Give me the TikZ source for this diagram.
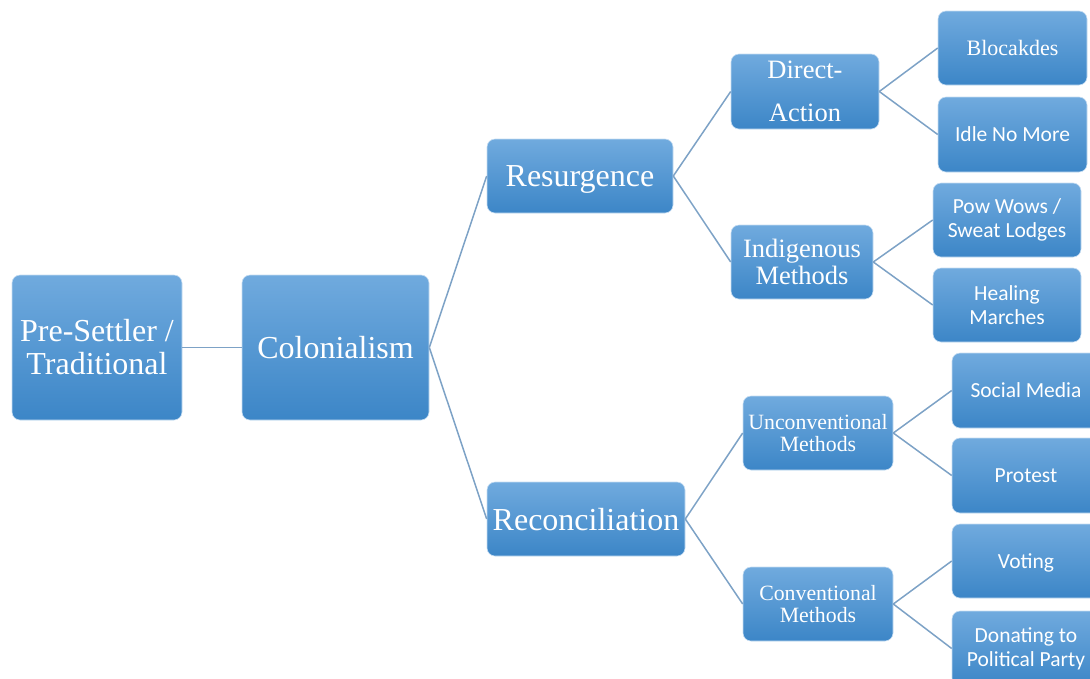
\documentclass[tikz,border=0pt]{standalone}
\usepackage{fontspec}
\setmainfont{Liberation Serif}
\newfontfamily\leaffont{Carlito}
\definecolor{boxtop}{RGB}{112,170,222}
\definecolor{boxbot}{RGB}{60,134,199}
\definecolor{conn}{RGB}{125,162,198}
\begin{document}
\begin{tikzpicture}[x=1pt,y=-1pt,
  box/.style={rounded corners=8pt, top color=boxtop, bottom color=boxbot,
    draw=boxtop!40!white, line width=0.6pt, text=white, inner sep=0pt, align=center},
  big/.style={box, font=\rmfamily\fontsize{32}{33}\selectfont},
  mid/.style={box, font=\rmfamily\fontsize{26.5}{27}\selectfont},
  small/.style={box, font=\rmfamily\fontsize{21.8}{21.5}\selectfont},
  leaf/.style={box, font=\leaffont\fontsize{21.5}{24}\selectfont, minimum width=148pt, minimum height=74pt},
  oneline/.style={text depth=0pt},
  link/.style={draw=conn, line width=1.5pt}]
\useasboundingbox (0,0) rectangle (1090,678);
\clip (0,0) rectangle (1090,678);

\node[big, minimum width=170pt, minimum height=145pt] (pre) at (97,347.5) {Pre-Settler /\\Traditional};
\node[big, oneline, minimum width=187pt, minimum height=145pt] (col) at (335.5,347.5) {Colonialism};
\node[big, oneline, minimum width=186pt, minimum height=74pt] (res) at (580,176) {Resurgence};
\node[big, oneline, minimum width=198pt, minimum height=74pt] (rec) at (586,519) {Reconciliation};

\node[box, font=\rmfamily\fontsize{26.5}{43}\selectfont, minimum width=148pt, minimum height=75pt] (da) at (805,91.5) {Direct-\\Action};
\node[mid, minimum width=142pt, minimum height=74pt] (im) at (802,262) {Indigenous\\Methods};
\node[small, minimum width=150pt, minimum height=74pt] (um) at (818,433) {Unconventional\\Methods};
\node[small, minimum width=150pt, minimum height=74pt] (cm) at (818,604) {Conventional\\Methods};

\node[leaf, oneline, font=\rmfamily\fontsize{22}{24}\selectfont, minimum width=149pt] (blo) at (1012.5,48) {Blocakdes};
\node[leaf, oneline, minimum width=149pt, minimum height=75pt] (idle) at (1012.5,134.5) {Idle No More};
\node[leaf] (pow) at (1007,220) {Pow Wows /\\Sweat Lodges};
\node[leaf] (heal) at (1007,305) {Healing\\Marches};
\node[leaf, oneline, minimum height=75pt] (soc) at (1026,390.5) {Social Media};
\node[leaf, oneline, minimum height=75pt] (prot) at (1026,475.5) {Protest};
\node[leaf, oneline] (vot) at (1026,561) {Voting};
\node[leaf, minimum height=75pt] (don) at (1026,648.5) {Donating to\\Political Party};

\draw[link] (pre.east) -- (col.west);
\draw[link] (col.east) -- (res.west);
\draw[link] (col.east) -- (rec.west);
\draw[link] (res.east) -- (da.west);
\draw[link] (res.east) -- (im.west);
\draw[link] (rec.east) -- (um.west);
\draw[link] (rec.east) -- (cm.west);
\draw[link] (da.east) -- (blo.west);
\draw[link] (da.east) -- (idle.west);
\draw[link] (im.east) -- (pow.west);
\draw[link] (im.east) -- (heal.west);
\draw[link] (um.east) -- (soc.west);
\draw[link] (um.east) -- (prot.west);
\draw[link] (cm.east) -- (vot.west);
\draw[link] (cm.east) -- (don.west);
\end{tikzpicture}
\end{document}
